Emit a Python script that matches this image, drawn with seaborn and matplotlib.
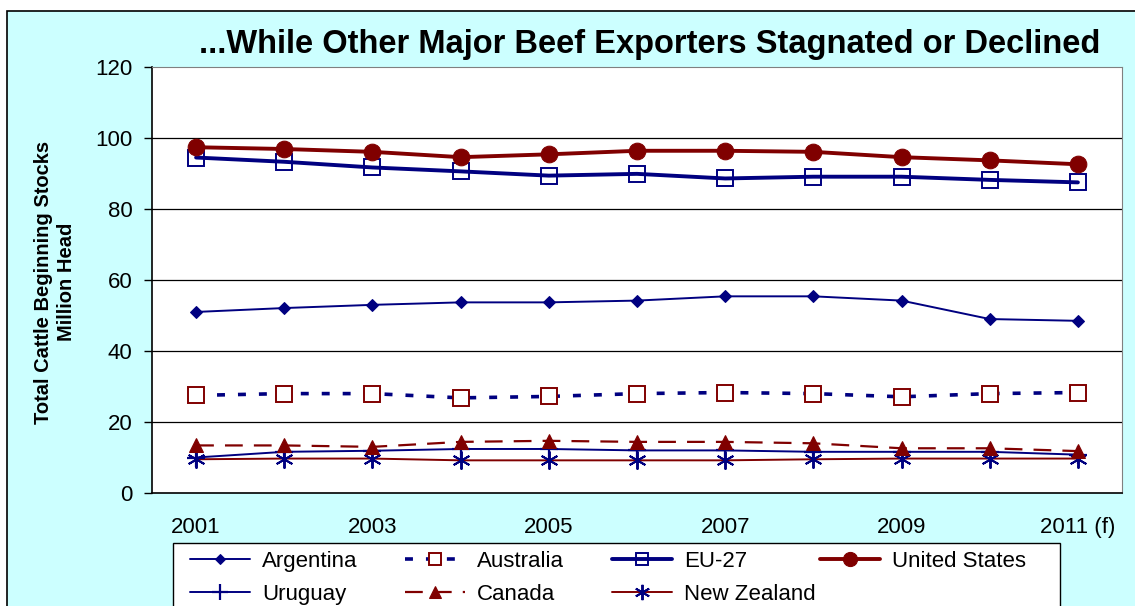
import matplotlib
matplotlib.use("Agg")
import matplotlib.pyplot as plt
import matplotlib.patches as mpatches
import seaborn as sns
import pandas as pd

years = [2001, 2002, 2003, 2004, 2005, 2006, 2007, 2008, 2009, 2010, 2011]
tick_years = [2001, 2003, 2005, 2007, 2009, 2011]
tick_labels = ["2001", "2003", "2005", "2007", "2009", "2011 (f)"]

argentina = [51.0, 52.1, 53.0, 53.7, 53.7, 54.2, 55.4, 55.4, 54.2, 49.0, 48.5]
australia = [27.5, 28.0, 28.0, 26.8, 27.2, 28.0, 28.3, 28.0, 27.1, 28.0, 28.3]
eu27 = [94.5, 93.3, 91.7, 90.6, 89.4, 89.9, 88.6, 89.1, 89.1, 88.2, 87.5]
united_states = [97.4, 96.9, 96.1, 94.6, 95.4, 96.4, 96.4, 96.1, 94.6, 93.7, 92.6]
uruguay = [10.0, 11.6, 11.9, 12.4, 12.4, 12.0, 12.0, 11.6, 11.6, 11.6, 10.8]
canada = [13.4, 13.4, 13.0, 14.4, 14.7, 14.4, 14.4, 14.0, 12.6, 12.6, 11.8]
new_zealand = [9.5, 9.7, 9.7, 9.2, 9.2, 9.2, 9.2, 9.5, 9.7, 9.7, 9.7]

NAVY = "#000080"
MAROON = "#800000"
BG = "#CCFFFF"
W, H = 1135, 606

sns.set_style("white")
plt.rcParams["font.family"] = ["Liberation Sans", "DejaVu Sans"]
plt.rcParams["text.color"] = "black"
plt.rcParams["xtick.color"] = "black"
plt.rcParams["ytick.color"] = "black"
plt.rcParams["xtick.labelcolor"] = "black"
plt.rcParams["ytick.labelcolor"] = "black"

fig = plt.figure(figsize=(W / 100, H / 100), dpi=100, facecolor="white")
# cyan chart area with a black border (right/bottom sides fall off the picture)
fig.patches.append(mpatches.Rectangle((7 / W, -0.2), 1.2, 1.2 - 11 / H,
                                      transform=fig.transFigure, facecolor=BG,
                                      edgecolor="black", linewidth=1.2, zorder=-10))
ax = fig.add_axes([152 / W, 1 - 493 / H, 970 / W, (493 - 67) / H])
ax.set_facecolor("white")

df = pd.DataFrame({"year": years, "Argentina": argentina, "Australia": australia,
                   "EU-27": eu27, "United States": united_states, "Uruguay": uruguay,
                   "Canada": canada, "New Zealand": new_zealand})

styles = {
    "Argentina": dict(color=NAVY, lw=1.4, marker="D", ms=6, mfc=NAVY, mec=NAVY),
    "Uruguay": dict(color=NAVY, lw=1.4, marker="+", ms=13, mfc=NAVY, mec=NAVY, mew=1.6),
    "Australia": dict(color=NAVY, lw=2.6, linestyle=(0, (2.2, 3.6)), marker="s", ms=11,
                      mfc="white", mec=MAROON, mew=1.4),
    "Canada": dict(color=MAROON, lw=1.6, linestyle=(0, (8, 5)), marker="^", ms=10,
                   mfc=MAROON, mec=MAROON),
    "EU-27": dict(color=NAVY, lw=2.8, marker="s", ms=11, mfc="none", mec=NAVY, mew=1.4),
    "New Zealand": dict(color=MAROON, lw=1.4, marker=(6, 2, 0), ms=13, mfc=NAVY,
                        mec=NAVY, mew=1.4),
    "United States": dict(color=MAROON, lw=2.8, marker="o", ms=12, mfc=MAROON, mec=MAROON),
}

draw_order = ["New Zealand", "Uruguay", "Canada", "Australia", "Argentina", "EU-27", "United States"]
for name in draw_order:
    sns.lineplot(data=df, x="year", y=name, ax=ax, label=name, **styles[name])

ax.set_xlim(2000.5, 2011.5)
ax.set_ylim(0, 120)
ax.set_yticks(range(0, 121, 20))
ax.set_xticks(tick_years)
ax.set_xticklabels(tick_labels)
ax.set_xticks([y + 0.5 for y in range(2000, 2012)], minor=True)
ax.tick_params(axis="x", which="major", length=0, pad=17, labelsize=16, labelcolor="black")
ax.tick_params(axis="x", which="minor", length=6, width=1, direction="out", color="black")
ax.tick_params(axis="y", length=6, width=1, direction="out", pad=8, labelsize=16,
               left=True, color="black", labelcolor="black")
ax.set_xlabel("")
ax.set_ylabel("")
for y in range(20, 101, 20):
    ax.axhline(y, color="black", lw=0.9, zorder=0)

ax.spines["left"].set_color("black")
ax.spines["left"].set_linewidth(1.2)
ax.spines["bottom"].set_color("black")
ax.spines["bottom"].set_linewidth(1.2)
ax.spines["top"].set_color("#808080")
ax.spines["right"].set_color("#808080")

fig.text(650 / W, 1 - 44 / H, "...While Other Major Beef Exporters Stagnated or Declined",
         ha="center", va="center", fontsize=23.5, fontweight="bold", color="black")
fig.text(55 / W, 1 - 282 / H, "Total Cattle Beginning Stocks\nMillion Head",
         rotation=90, ha="center", va="center", fontsize=14.5, fontweight="bold",
         multialignment="center", linespacing=1.2, color="black")

# legend: white box with four fixed-width columns, like the original
handles, labels = ax.get_legend_handles_labels()
ax.get_legend().remove()
hmap = dict(zip(labels, handles))
fig.patches.append(mpatches.Rectangle((173 / W, -0.1), (1060 - 173) / W, 0.1 + 1 - 543 / H,
                                      transform=fig.transFigure, facecolor="white",
                                      edgecolor="black", linewidth=1.0, zorder=5))
columns = [(["Argentina", "Uruguay"], 190), (["Australia", "Canada"], 405),
           (["EU-27", "New Zealand"], 612), (["United States"], 820)]
for names, x0 in columns:
    leg = fig.legend([hmap[n] for n in names], names, ncol=1, loc="upper left",
                     bbox_to_anchor=(x0 / W, 1 - 551 / H), frameon=False,
                     fontsize=16, handlelength=2.7, handletextpad=0.55,
                     borderpad=0, borderaxespad=0, labelspacing=0.55,
                     markerscale=0.85, labelcolor="black")
    leg.set_zorder(6)

fig.savefig("out.png", dpi=100, facecolor=fig.get_facecolor())
